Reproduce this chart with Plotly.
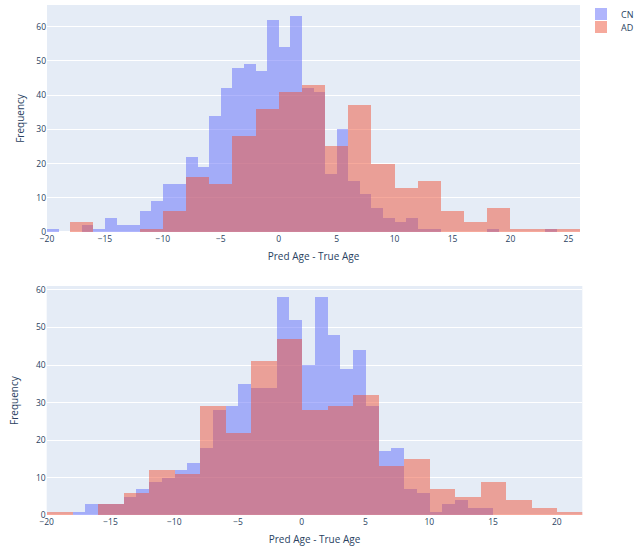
import plotly.graph_objects as go

# ---- data ----
# Top panel
cn_top_bins = list(range(-20, 24))          # bin starts, width 1
cn_top_counts = [1, 0, 0, 2, 1, 4, 2, 2, 6, 9, 14, 14, 22, 19, 34, 42, 48, 49, 47, 62,
                 54, 63, 42, 41, 17, 30, 15, 11, 7, 4, 3, 4, 1, 1, 0, 0, 0, 0, 1, 0,
                 0, 0, 0, 1]
ad_top_bins = list(range(-18, 26, 2))       # bin starts, width 2
ad_top_counts = [3, 0, 0, 1, 6, 16, 14, 28, 36, 41, 43, 25, 37, 20, 13, 15, 6, 3, 7, 1, 1, 1]

# Bottom panel
cn_bot_bins = list(range(-18, 15))          # bin starts, width 1
cn_bot_counts = [1, 3, 3, 3, 5, 7, 9, 10, 12, 14, 18, 28, 29, 35, 34, 34, 58, 52,
                 40, 58, 48, 39, 44, 29, 17, 18, 7, 6, 1, 3, 4, 2, 2]
ad_bot_bins = list(range(-20, 22, 2))       # bin starts, width 2
ad_bot_counts = [1, 0, 3, 6, 12, 11, 29, 22, 41, 47, 28, 29, 32, 13, 15, 7, 5, 9, 4, 2, 1]

CN_COLOR = "#636efa"
AD_COLOR = "#EF553B"


def bar(bins, counts, width, name, color, xa, ya, show, legend="legend"):
    return go.Bar(
        x=[b + width / 2 for b in bins], y=counts, width=width,
        name=name, marker=dict(color=color, line=dict(width=0)), opacity=0.5,
        xaxis=xa, yaxis=ya, showlegend=show, legendgroup=name, legend=legend,
    )


fig = go.Figure()
fig.add_trace(bar(cn_top_bins, cn_top_counts, 1, "CN", CN_COLOR, "x", "y", True, "legend"))
fig.add_trace(bar(ad_top_bins, ad_top_counts, 2, "AD", AD_COLOR, "x", "y", True, "legend2"))
fig.add_trace(bar(cn_bot_bins, cn_bot_counts, 1, "CN", CN_COLOR, "x2", "y2", False))
fig.add_trace(bar(ad_bot_bins, ad_bot_counts, 2, "AD", AD_COLOR, "x2", "y2", False))

W, H = 641, 548
tick_font = dict(size=8.5, color="#2a3f5f")
title_font = dict(size=10, color="#2a3f5f")
legend_common = dict(xanchor="left", yanchor="middle", font=dict(size=9, color="#2a3f5f"),
                     itemwidth=30, bgcolor="rgba(0,0,0,0)", x=581 / W)

fig.update_layout(
    width=W, height=H, autosize=False,
    template="plotly",
    barmode="overlay", bargap=0,
    margin=dict(l=0, r=0, t=0, b=0, autoexpand=False),
    font=dict(family="Open Sans, Arial, sans-serif", size=9),
    xaxis=dict(domain=[47 / W, 580 / W], anchor="y", automargin=False,
               title=dict(text="Pred Age - True Age", font=title_font, standoff=10),
               tickfont=tick_font, dtick=5),
    yaxis=dict(domain=[1 - 232 / H, 1 - 5 / H], anchor="x", automargin=False,
               title=dict(text="Frequency", font=title_font, standoff=9),
               tickfont=tick_font),
    xaxis2=dict(domain=[46.7 / W, 582.3 / W], anchor="y2", automargin=False,
                title=dict(text="Pred Age - True Age", font=title_font, standoff=10),
                tickfont=tick_font, dtick=5),
    yaxis2=dict(domain=[1 - 515.3 / H, 1 - 286 / H], anchor="x2", automargin=False,
                title=dict(text="Frequency", font=title_font), tickfont=tick_font),
    legend=dict(y=1 - 14 / H, **legend_common),
    legend2=dict(y=1 - 27 / H, **legend_common),
)

fig.write_html("out.html",
               config={"displayModeBar": False, "responsive": False},
               post_script="document.body.style.margin='0';document.body.style.overflow='hidden';")
